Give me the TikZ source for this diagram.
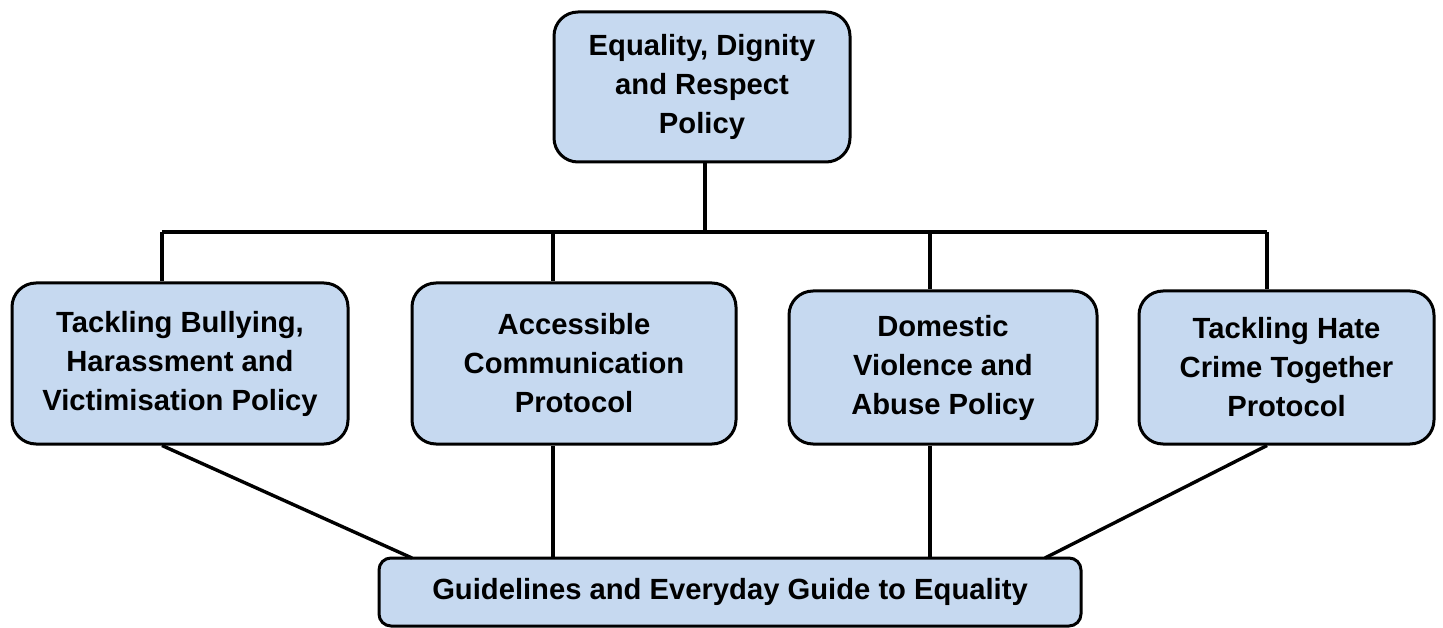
\documentclass[tikz,border=0pt]{standalone}
\usepackage{fontspec}
\setmainfont{Liberation Sans}
\definecolor{boxfill}{RGB}{198,217,240}
\begin{document}
\begin{tikzpicture}[x=1pt,y=1pt,
  box/.style={draw=black, line width=3pt, fill=boxfill, rounded corners=24pt,
    align=center, inner sep=0pt, text=black,
    font=\fontsize{29.2}{39}\selectfont\bfseries},
  link/.style={draw=black, line width=3.4pt}]
\useasboundingbox (0,0) rectangle (1443,-628);
\node[box, minimum width=296, minimum height=150] (top) at (702,-87) {Equality, Dignity\\and Respect\\Policy};
\node[box, minimum width=336, minimum height=161] (b1) at (180,-363.5) {Tackling Bullying,\\Harassment and\\Victimisation Policy};
\node[box, minimum width=324, minimum height=161] (b2) at (574,-363.5) {Accessible\\Communication\\Protocol};
\node[box, minimum width=308, minimum height=153] (b3) at (943,-367.5) {Domestic\\Violence and\\Abuse Policy};
\node[box, minimum width=295, minimum height=153] (b4) at (1286.5,-367.5) {Tackling Hate\\Crime Together\\Protocol};
\node[box, rounded corners=12pt, minimum width=702, minimum height=68] (g) at (730,-592) {Guidelines and Everyday Guide to Equality};
\coordinate (t) at (705,-232);
\coordinate (d1) at (162,-232);
\coordinate (d2) at (553,-232);
\coordinate (d3) at (930,-232);
\coordinate (d4) at (1267,-232);
\coordinate (g1) at (412,-558);
\coordinate (g4) at (1045,-558);
\draw[link] (top.south -| t) -- (t);
\draw[link] (d1) -- (d4);
\draw[link] (d1) -- (d1 |- b1.north);
\draw[link] (d2) -- (d2 |- b2.north);
\draw[link] (d3) -- (d3 |- b3.north);
\draw[link] (d4) -- (d4 |- b4.north);
\draw[link] (b1.south -| d1) -- (g1);
\draw[link] (b2.south -| d2) -- (g.north -| d2);
\draw[link] (b3.south -| d3) -- (g.north -| d3);
\draw[link] (b4.south -| d4) -- (g4);
\end{tikzpicture}
\end{document}
